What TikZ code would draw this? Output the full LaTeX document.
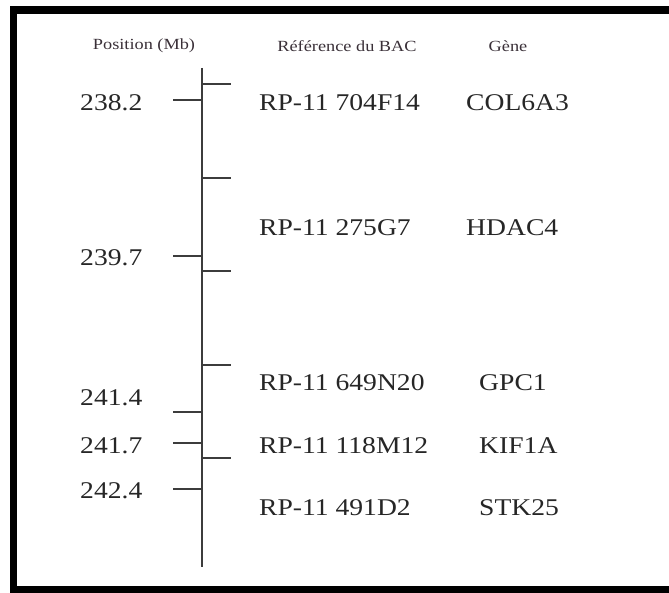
\documentclass[tikz,border=0pt]{standalone}
\usepackage{fontspec}
\setmainfont{Liberation Serif}
\definecolor{ink}{HTML}{262626}
\definecolor{head}{HTML}{3A3038}
\definecolor{rule}{HTML}{3C3C3C}
\begin{document}
\begin{tikzpicture}[x=1pt,y=-1pt,
  lbl/.style={anchor=west,inner sep=0pt,text=ink,font=\fontsize{24}{24}\selectfont,xscale=1.15},
  hdr/.style={anchor=center,inner sep=0pt,text=head,font=\fontsize{15.5}{16}\selectfont,xscale=1.18},
  axisline/.style={draw=rule,line width=2pt},
  tick/.style={draw=rule,line width=1.8pt},
  frame/.style={draw=black,line width=7.5pt}]
\useasboundingbox (0,0) rectangle (669,593);
% frame (open on the right)
\draw[frame] (669,10) -- (13.5,10) -- (13.5,589.5) -- (669,589.5);
% headers
\node[hdr] (hpos) at (144,46) {Position (Mb)};
\node[hdr] (hbac) at (347,46) {Référence du BAC};
\node[hdr] (hgen) at (508,46) {Gène};
% axis
\coordinate (top) at (202,68);
\coordinate (bot) at (202,567);
\draw[axisline] (top) -- (bot);
% left ticks
\foreach \n/\y in {a/100,b/256,c/412,d/443,e/489}{
  \coordinate (L\n) at (202,\y);
  \coordinate (L\n e) at (173,\y);
  \draw[tick] (L\n) -- (L\n e);
}
% right ticks
\foreach \n/\y in {a/84,b/178,c/271,d/365,e/458}{
  \coordinate (R\n) at (202,\y);
  \coordinate (R\n e) at (231,\y);
  \draw[tick] (R\n) -- (R\n e);
}
% positions
\node[lbl] (p1) at (80,103) {238.2};
\node[lbl] (p2) at (80,258) {239.7};
\node[lbl] (p3) at (80,398) {241.4};
\node[lbl] (p4) at (80,446) {241.7};
\node[lbl] (p5) at (80,491) {242.4};
% BAC references
\node[lbl] (b1) at (259,103) {RP-11 704F14};
\node[lbl] (b2) at (259,228) {RP-11 275G7};
\node[lbl] (b3) at (259,383) {RP-11 649N20};
\node[lbl] (b4) at (259,446) {RP-11 118M12};
\node[lbl] (b5) at (259,508) {RP-11 491D2};
% genes
\node[lbl] (g1) at (466,103) {COL6A3};
\node[lbl] (g2) at (466,228) {HDAC4};
\node[lbl] (g3) at (479,383) {GPC1};
\node[lbl] (g4) at (479,446) {KIF1A};
\node[lbl] (g5) at (479,508) {STK25};
\end{tikzpicture}
\end{document}
